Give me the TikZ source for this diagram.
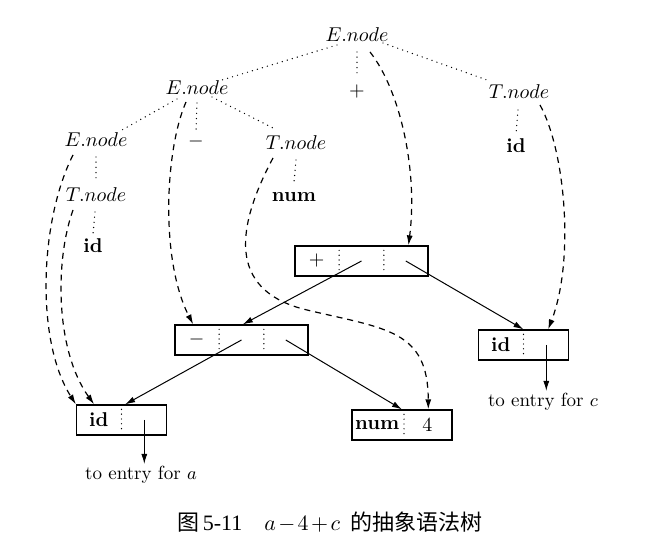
\documentclass[tikz,border=0pt]{standalone}
\usepackage{fontspec}
\newfontfamily\cjk{Noto Sans CJK SC}
\newfontfamily\capserif{Liberation Serif}
\usetikzlibrary{arrows.meta,calc}
\begin{document}
\begin{tikzpicture}[x=0.5pt,y=-0.5pt,
  lbl/.style={inner sep=1pt},
  dotline/.style={line width=0.7pt, dash pattern=on 0pt off 2.6pt, line cap=round},
  dashline/.style={line width=0.6pt, dash pattern=on 3pt off 2.5pt},
  tip/.style={-{Latex[length=5pt,width=3pt]}},
  solidarrow/.style={line width=0.5pt, tip},
  dasharrow/.style={dashline, tip},
  recbox/.style={draw, line width=0.6pt, minimum height=15pt, inner sep=0pt},
  cellsep/.style={line width=0.7pt, dash pattern=on 0pt off 2.4pt, line cap=round, shorten <=2.5pt, shorten >=2.5pt},
  note/.style={inner sep=1pt, font=\fontsize{9.5}{11}\selectfont}
]
\useasboundingbox (0,0) rectangle (659,555);

% parse tree labels
\node[lbl] (Et) at (357,35) {$E.node$};
\node[lbl] (E2) at (197,88) {$E.node$};
\node[lbl] (pl) at (357,92) {$+$};
\node[lbl] (Tr) at (519,92) {$T.node$};
\node[lbl] (E3) at (96,140) {$E.node$};
\node[lbl] (mi) at (196,142) {$-$};
\node[lbl] (Tm) at (296,143) {$T.node$};
\node[lbl] (idr) at (516,146) {\textbf{id}};
\node[lbl] (T4) at (96,195) {$T.node$};
\node[lbl] (num) at (294,197) {\textbf{num}};
\node[lbl] (idl) at (93,246) {\textbf{id}};

% dotted tree edges
\draw[dotline] ([shift={(-20,10)}]Et.center) -- ([shift={(25,-8)}]E2.center);
\draw[dotline] ([shift={(0,17)}]Et.center) -- ([shift={(0,-19)}]pl.center);
\draw[dotline] ([shift={(26,8)}]Et.center) -- ([shift={(-32,-12)}]Tr.center);
\draw[dotline] ([shift={(-20,11)}]E2.center) -- ([shift={(26,-10)}]E3.center);
\draw[dotline] ([shift={(0,15)}]E2.center) -- ([shift={(0,-11)}]mi.center);
\draw[dotline] ([shift={(15,9)}]E2.center) -- ([shift={(-23,-15)}]Tm.center);
\draw[dotline] ([shift={(0,17)}]Tm.center) -- ([shift={(0,-15)}]num.center);
\draw[dotline] ([shift={(-1,18)}]Tr.center) -- ([shift={(0,-12)}]idr.center);
\draw[dotline] ([shift={(0,17)}]E3.center) -- ([shift={(0,-13)}]T4.center);
\draw[dotline] ([shift={(-1,17)}]T4.center) -- ([shift={(0,-12)}]idl.center);

% record boxes
\node[recbox, minimum width=66.5pt] (pb) at (361.5,261) {};
\node[recbox, minimum width=66.5pt] (mb) at (241.5,340) {};
\node[recbox, minimum width=45pt] (il) at (121.5,420) {};
\node[recbox, minimum width=50pt] (nb) at (402,425) {};
\node[recbox, minimum width=45pt] (ir) at (523.5,345) {};

\draw[cellsep] ($(pb.north west)!1/3!(pb.north east)$) -- ($(pb.south west)!1/3!(pb.south east)$);
\draw[cellsep] ($(pb.north west)!2/3!(pb.north east)$) -- ($(pb.south west)!2/3!(pb.south east)$);
\draw[cellsep] ($(mb.north west)!1/3!(mb.north east)$) -- ($(mb.south west)!1/3!(mb.south east)$);
\draw[cellsep] ($(mb.north west)!2/3!(mb.north east)$) -- ($(mb.south west)!2/3!(mb.south east)$);
\draw[cellsep] (il.north) -- (il.south);
\draw[cellsep] ($(nb.north west)!0.52!(nb.north east)$) -- ($(nb.south west)!0.52!(nb.south east)$);
\draw[cellsep] (ir.north) -- (ir.south);

\node[lbl] (pbl) at ($(pb.west)!1/6!(pb.east)$) {$+$};
\node[lbl] (mbl) at ($(mb.west)!1/6!(mb.east)$) {$-$};
\node[lbl] (ill) at ($(il.west)!0.25!(il.east)$) {\textbf{id}};
\node[lbl] (nbl) at ($(nb.west)!0.255!(nb.east)$) {\textbf{num}};
\node[lbl] (nbv) at ($(nb.west)!0.75!(nb.east)$) {4};
\node[lbl] (irl) at ($(ir.west)!0.25!(ir.east)$) {\textbf{id}};

% notes
\node[note] (ta) at (141,475) {to entry for $a$};
\node[note] (tc) at (543,402) {to entry for $c$};

% solid pointers
\draw[solidarrow] (pb.center) -- ($(mb.north west)!0.51!(mb.north east)$);
\draw[solidarrow] ($(pb.west)!0.83!(pb.east)$) -- (ir.north);
\draw[solidarrow] (mb.center) -- ($(il.north west)!0.54!(il.north east)$);
\draw[solidarrow] ($(mb.west)!0.83!(mb.east)$) -- (nb.north);
\coordinate (ilc) at ($(il.west)!0.75!(il.east)$);
\draw[solidarrow] (ilc) -- (ilc |- ta.north);
\coordinate (irc) at ($(ir.west)!0.75!(ir.east)$);
\draw[solidarrow] (irc) -- (irc |- tc.north);

% dashed attribute pointers
\draw[dasharrow] ([shift={(13,17)}]Et.center) .. controls (400,90) and (418,170) .. ($(pb.north west)!0.85!(pb.north east)$);
\draw[dasharrow] ([shift={(21,13)}]Tr.center) .. controls (565,150) and (575,260) .. ($(ir.north west)!0.77!(ir.north east)$);
\draw[dasharrow] ([shift={(-11,14)}]E2.center) .. controls (165,150) and (160,260) .. ($(mb.north west)!0.14!(mb.north east)$);
\draw[dasharrow] ([shift={(-23,15)}]Tm.center) .. controls (232,235) and (232,292) .. (307,310) .. controls (387,329) and (428,330) .. ($(nb.north west)!0.76!(nb.north east)$);
\draw[dasharrow] ([shift={(-23,15)}]E3.center) .. controls (40,220) and (35,340) .. (il.north west);
\draw[dasharrow] ([shift={(-23,15)}]T4.center) .. controls (55,260) and (55,350) .. ($(il.north west)!0.2!(il.north east)$);

% caption
\node[inner sep=0pt, font=\fontsize{11}{13}\selectfont] (cap) at (330,522) {{\cjk 图}\,{\capserif 5-11}\quad{\medmuskip=2mu$a-4+c$}\ \,{\cjk 的抽象语法树}};
\end{tikzpicture}
\end{document}
